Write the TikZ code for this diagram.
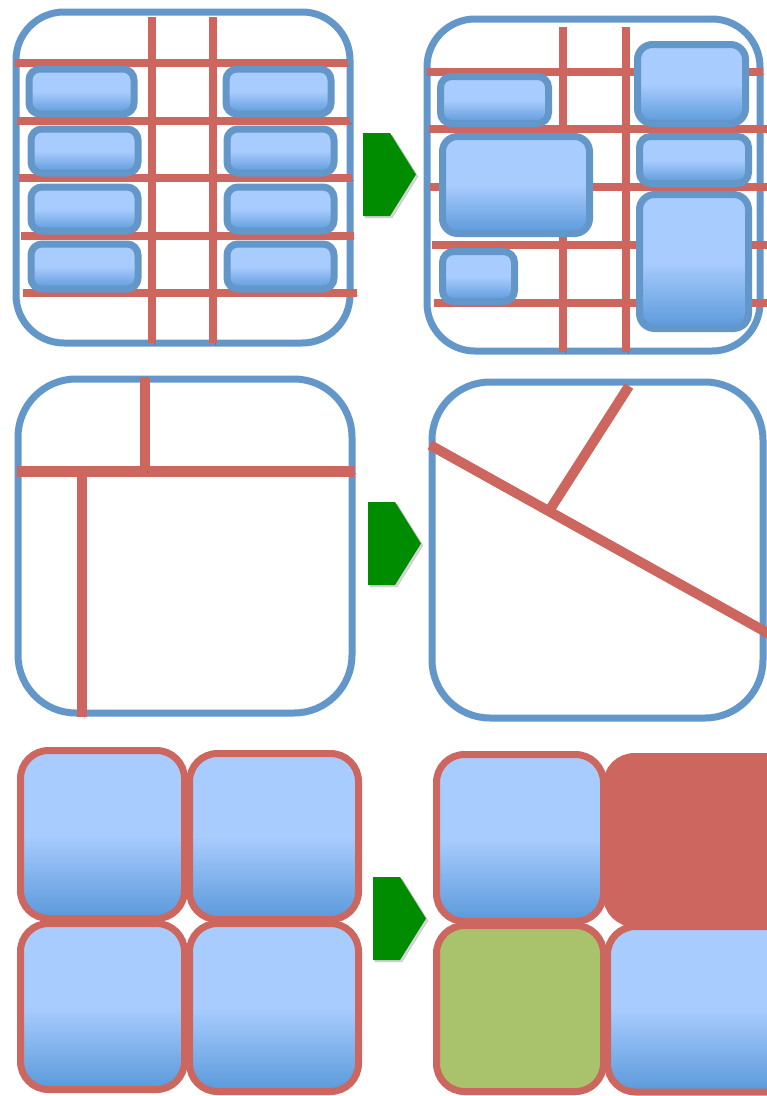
\documentclass[tikz,border=0pt]{standalone}
\usetikzlibrary{calc}

\definecolor{bordeazul}{RGB}{99,150,201}
\definecolor{rojo}{RGB}{204,102,95}
\definecolor{azulclaro}{RGB}{169,204,254}
\definecolor{azuloscuro}{RGB}{90,153,218}
\definecolor{verde}{RGB}{0,140,0}
\definecolor{verdecaja}{RGB}{169,195,108}

\begin{document}
\begin{tikzpicture}[x=1pt, y=-1pt,
  sombralinea/.style={preaction={draw=black, opacity=.16, transform canvas={shift={(2,2)}}}},
  sombracaja/.style={preaction={draw=black, fill=black, opacity=.16, transform canvas={shift={(2,2)}}}},
  marco/.style={draw=bordeazul, line width=7pt, sombralinea},
  guia/.style={draw=rojo, line width=#1, sombralinea},
  guia/.default=7.5pt,
  azul/.style={top color=azulclaro, bottom color=azuloscuro, middle color=azulclaro},
  caja/.style={draw=bordeazul, line width=7pt, rounded corners=#1, azul, sombracaja},
  caja/.default=11pt,
  bloque/.style={draw=rojo, line width=7pt, rounded corners=28pt, sombracaja},
  flecha/.style={fill=verde, sombracaja}]

\useasboundingbox (0,0) rectangle (767,1096);
\clip (0,0) rectangle (767,1096);
\fill[white] (0,0) rectangle (767,1096);

% Panel 1: rejilla regular
\draw[marco, rounded corners=48pt] (16,12) rectangle (350,343);
\foreach \y/\a/\b in {63/15/348, 121/17/350, 178/19/352, 236/21/354, 293/23/357}
  \draw[guia] (\a,\y) -- (\b,\y);
\foreach \x in {152,213}
  \draw[guia] (\x,17) -- (\x,343);
\foreach \xa/\ya/\xb/\yb in {29/69/134/114, 31/129/138/173, 31/187/138/231, 31/244/138/289,
                             226/69/331/114, 227/129/334/173, 227/187/334/231, 227/244/334/289}
  \draw[caja] (\xa,\ya) rectangle (\xb,\yb);

% Panel 2: rejilla con cajas de varios tamanos
\draw[marco, rounded corners=48pt] (427,19) rectangle (760,351);
\foreach \y/\a/\b in {72/427/763, 129/429/767, 187/430/767, 245/432/767, 303/434/767}
  \draw[guia] (\a,\y) -- (\b,\y);
\foreach \x in {563,626}
  \draw[guia] (\x,27) -- (\x,352);
\draw[caja] (440.5,76.5) rectangle (548.5,123.5);
\draw[caja=15pt] (442.5,136.5) rectangle (589.5,233.5);
\draw[caja] (442.5,251.5) rectangle (514.5,301.5);
\draw[caja=15pt] (637.5,44.5) rectangle (745.5,123.5);
\draw[caja] (639.5,136.5) rectangle (748.5,183.5);
\draw[caja=15pt] (639.5,194.5) rectangle (748.5,328.5);

% Flechas
\foreach \x/\y in {363/133, 368/502, 373/877}
  \path[flecha] (\x,\y) -- ++(27,0) -- ++(26,41.5) -- ++(-26,41.5) -- ++(-27,0) -- cycle;

% Panel 3: divisiones rectas
\draw[marco, rounded corners=58pt] (18,379) rectangle (352,713);
\draw[guia=11pt] (17,471) -- (355,471);
\draw[guia=10pt] (145,377) -- (145,471);
\draw[guia=10pt] (82,471) -- (82,717);

% Panel 4: divisiones oblicuas
\draw[marco, rounded corners=58pt] (432,382) rectangle (763,718);
\coordinate (cruce) at (549,511);
\draw[guia=10pt] (430,445) -- (800,651);
\draw[guia=10pt] (cruce) -- (629,386);

% Panel 5: bloques iguales
\draw[bloque, azul] (20.5,750.5) rectangle (184.5,918.5);
\draw[bloque, azul] (189.5,753.5) rectangle (358.5,919.5);
\draw[bloque, azul] (20.5,923.5) rectangle (184.5,1089.5);
\draw[bloque, azul] (189.5,923.5) rectangle (358.5,1091.5);

% Panel 6: bloques distintos
\draw[bloque, azul] (436.5,754.5) rectangle (603.5,921.5);
\draw[bloque, fill=rojo] (606.5,756.5) rectangle (800,923.5);
\draw[bloque, fill=verdecaja] (436.5,925.5) rectangle (603.5,1091.5);
\draw[bloque, azul] (607.5,926.5) rectangle (800,1092);

\end{tikzpicture}
\end{document}
